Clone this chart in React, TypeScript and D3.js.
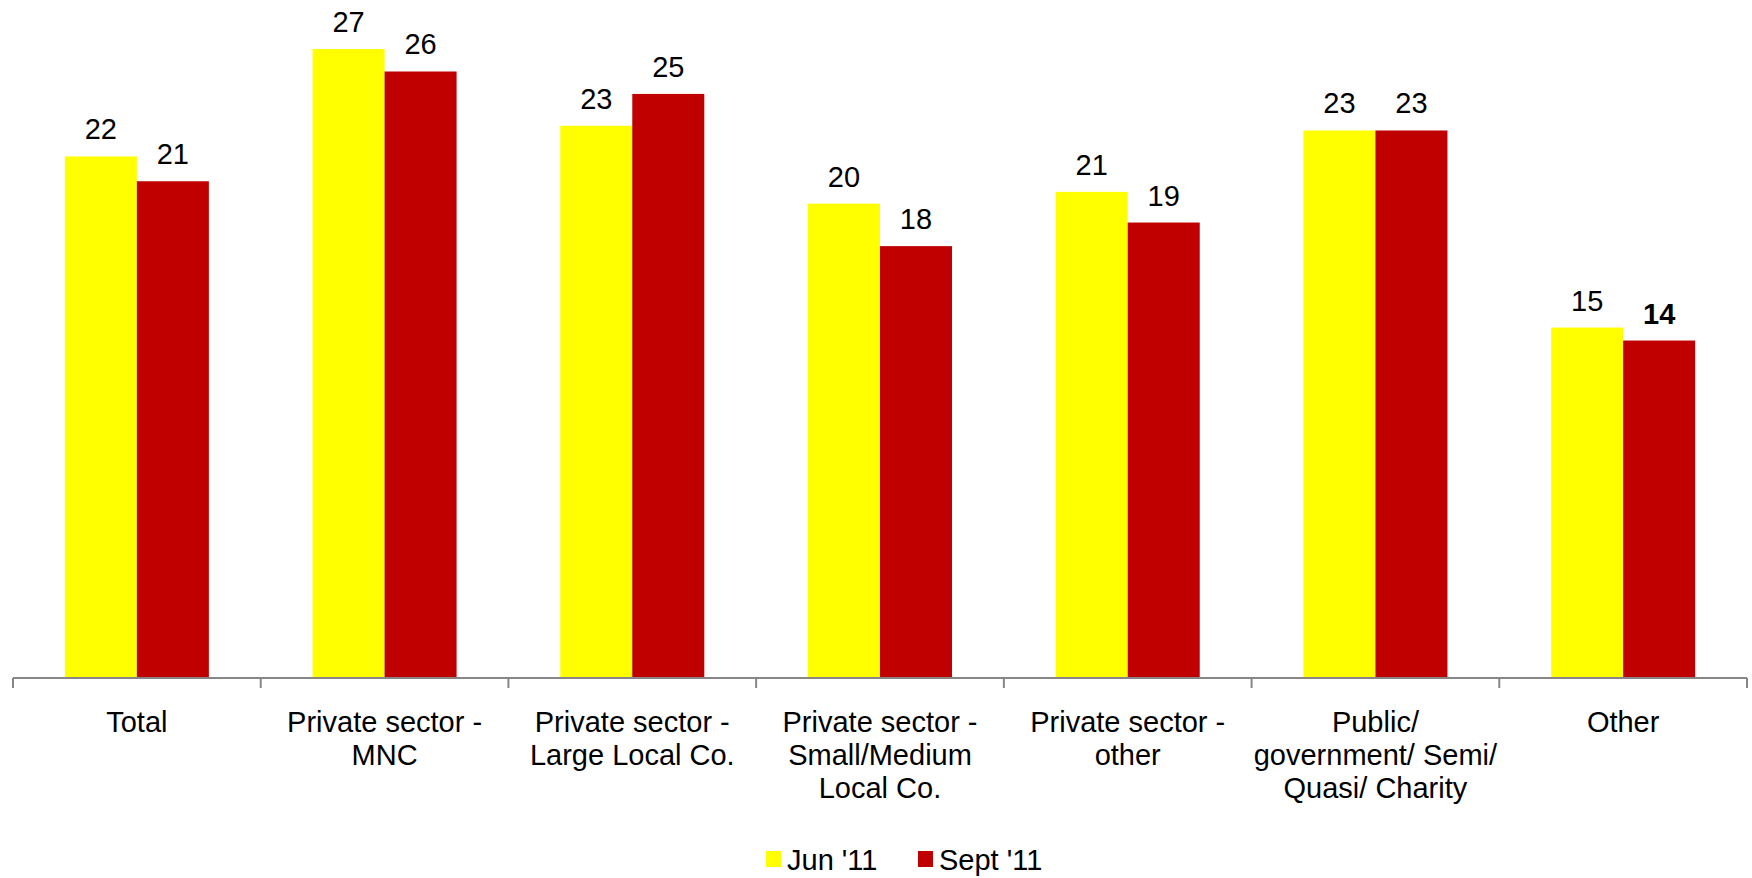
import React from "react";
import * as d3 from "d3";

const categories: string[][] = [
  ["Total"],
  ["Private sector -", "MNC"],
  ["Private sector -", "Large Local Co."],
  ["Private sector -", "Small/Medium", "Local Co."],
  ["Private sector -", "other"],
  ["Public/", "government/ Semi/", "Quasi/ Charity"],
  ["Other"],
];
const seriesNames = ["Jun '11", "Sept '11"];
const seriesColors = ["#FFFF00", "#C00000"];
const junValues = [22.1, 26.65, 23.4, 20.1, 20.6, 23.2, 14.85];
const septValues = [21.05, 25.7, 24.75, 18.3, 19.3, 23.2, 14.3];
const boldSept = [false, false, false, false, false, false, true];

const W = 1752;
const H = 878;
const FONT = "'Liberation Sans', Arial, Helvetica, sans-serif";

export default function App() {
  const keys = categories.map((_, i) => String(i));
  const x0 = d3.scaleBand<string>().domain(keys).range([13, 1747]).padding(0);
  const x1 = d3
    .scaleBand<string>()
    .domain(["0", "1"])
    .range([0, x0.bandwidth()])
    .paddingInner(0)
    .paddingOuter(0.72);
  const y = d3.scaleLinear().domain([0, 28.7]).range([678, 0.7]);
  const baseY = y(0);
  const series = [junValues, septValues];

  const boundaries = keys.map((k) => x0(k)!).concat([x0.range()[1]]);

  return (
    <svg
      width={W}
      height={H}
      style={{ position: "absolute", left: 0, top: 0, background: "#fff" }}
      fontFamily={FONT}
    >
      {keys.map((k, ci) =>
        series.map((vals, si) => {
          const bx = x0(k)! + x1(String(si))!;
          const bw = x1.bandwidth();
          const v = vals[ci];
          return (
            <g key={k + "-" + si}>
              <rect x={bx} y={y(v)} width={bw} height={baseY - y(v)} fill={seriesColors[si]} />
              <text
                x={bx + bw / 2}
                y={y(v) - 17}
                textAnchor="middle"
                fontSize={29}
                fontWeight={si === 1 && boldSept[ci] ? "bold" : "normal"}
                fill="#000"
              >
                {Math.round(v)}
              </text>
            </g>
          );
        })
      )}
      <line x1={x0.range()[0]} x2={x0.range()[1]} y1={baseY} y2={baseY} stroke="#868686" strokeWidth={2} />
      {boundaries.map((bx, i) => (
        <line key={"t" + i} x1={bx} x2={bx} y1={baseY} y2={baseY + 10} stroke="#868686" strokeWidth={2} />
      ))}
      {keys.map((k, ci) => (
        <text key={"c" + k} x={x0(k)! + x0.bandwidth() / 2} y={732} textAnchor="middle" fontSize={29} fill="#000">
          {categories[ci].map((line, li) => (
            <tspan key={li} x={x0(k)! + x0.bandwidth() / 2} dy={li === 0 ? 0 : 33}>
              {line}
            </tspan>
          ))}
        </text>
      ))}
      {seriesNames.map((name, si) => {
        const lx = si === 0 ? 766 : 918;
        return (
          <g key={"l" + si}>
            <rect x={lx} y={851} width={15} height={16} fill={seriesColors[si]} />
            <text x={lx + 21} y={870} fontSize={29} fill="#000">
              {name}
            </text>
          </g>
        );
      })}
    </svg>
  );
}
